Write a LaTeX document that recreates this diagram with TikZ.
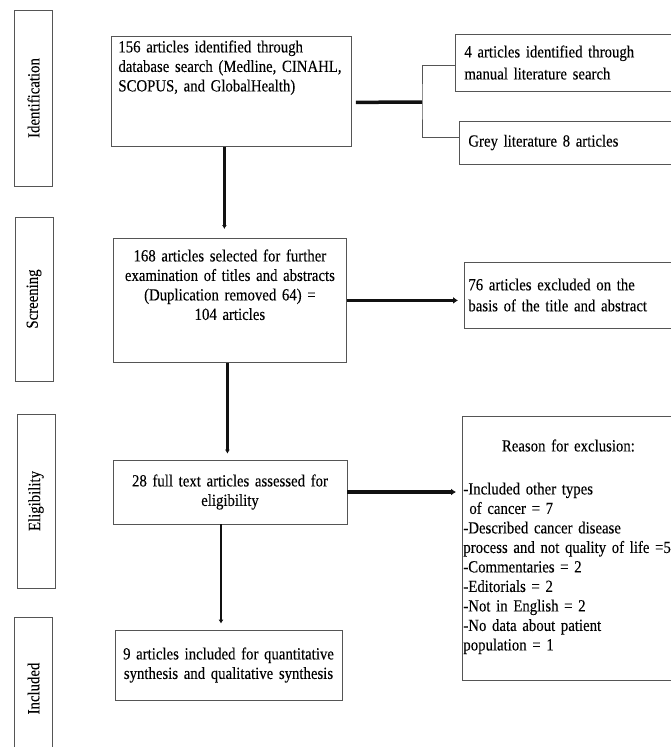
\documentclass[tikz,border=0pt]{standalone}
\usepackage{fontspec}
\setmainfont{Liberation Serif}[FakeStretch=0.87, WordSpace=0.7, FakeBold=0.15]
\usetikzlibrary{arrows.meta, positioning}
\definecolor{box-border}{HTML}{555555}
\definecolor{flow-color}{HTML}{111111}
\tikzset{
  phase-node/.style={
    draw=box-border, line width=0.8pt, rotate=90, minimum height=38pt,
    inner sep=2pt, font=\fontsize{17}{17}\selectfont
  },
  stage-node/.style={
    draw=box-border, line width=0.8pt, inner xsep=4pt, inner ysep=0pt,
    align=center, font=\fontsize{17}{19.5}\selectfont
  },
  side-node/.style={
    draw=box-border, line width=0.8pt, inner xsep=9pt, inner ysep=0pt,
    align=left, anchor=west, text width=212pt, font=\fontsize{17}{22}\selectfont
  },
  flow/.style={-{Latex[length=4pt, width=5pt]}, line width=2.2pt, draw=flow-color, shorten >=6pt},
  wide/.style={-{Latex[length=5pt, width=7pt]}, line width=3.5pt},
  link/.style={line width=3.5pt, draw=flow-color},
  branch/.style={line width=0.8pt, draw=box-border}
}

\begin{document}
\begin{tikzpicture}[x=1pt, y=-1pt]
  \useasboundingbox (0, 0) rectangle (671, 747);

  % phase labels
  \node[phase-node, minimum width=176pt] (lab-ident)  at (33.5, 98)  {Identification};
  \node[phase-node, minimum width=164pt] (lab-screen) at (34, 299)   {Screening};
  \node[phase-node, minimum width=174pt] (lab-elig)   at (36, 501)   {Eligibility};
  \node[phase-node, minimum width=143pt] (lab-incl)   at (33.5, 688.5) {Included};

  % main stages
  \node[stage-node, anchor=north west, align=left, inner xsep=7pt, text width=226pt,
        text height=16pt, text depth=94pt] (ident) at (111, 36)
        {156 articles identified through\\database search (Medline, CINAHL,\\SCOPUS, and GlobalHealth)};
  \node[stage-node, anchor=north west, text width=225pt, text height=23pt, text depth=101pt] (screen) at (113, 238)
        {168 articles selected for further\\examination of titles and abstracts\\(Duplication removed 64) =\\104 articles};
  \node[stage-node, text width=226pt, minimum height=64pt] (elig) at (230, 492)
        {28 full text articles assessed for\\eligibility};
  \node[stage-node, text width=219pt, minimum height=70pt] (incl) at (228.5, 665)
        {9 articles included for quantitative\\synthesis and qualitative synthesis};

  % side boxes
  \node[side-node, minimum height=57pt] (manual) at (455, 62.5)
        {4 articles identified through\\manual literature search};
  \node[side-node, minimum height=43pt] (grey) at (459, 142.5) {Grey literature 8 articles};
  \node[side-node, inner xsep=4pt, minimum height=66pt, font=\fontsize{17}{21}\selectfont] (excl) at (464, 295)
        {76 articles excluded on the\\basis of the title and abstract};
  \node[side-node, anchor=north west, inner xsep=1pt, text width=210pt, text height=35pt, text depth=229pt,
        font=\fontsize{17}{19.5}\selectfont] (reason) at (462, 416)
        {\makebox[210pt]{Reason for exclusion:}\\[23.5pt]
         -Included other types\\
         \hspace*{6pt}of cancer = 7\\
         -Described cancer disease\\
         process and not quality of life =5\\
         -Commentaries = 2\\
         -Editorials = 2\\
         -Not in English = 2\\
         -No data about patient\\
         population = 1};

  % connectors
  \coordinate (split) at (422, 102);
  \draw[link, shorten <=4pt] ([yshift=-11pt]ident.east) -- (split);
  \draw[branch] ([yshift=-2.5pt]manual.west) -| (split) |- ([yshift=5.5pt]grey.west);

  \draw[flow, shorten >=9pt] ([xshift=-7pt]ident.south) -- ([xshift=-7pt]ident.south |- screen.north);
  \draw[flow] ([xshift=-2.5pt]screen.south) -- ([xshift=-2.5pt]screen.south |- elig.north);
  \draw[flow] ([xshift=-9pt]elig.south) -- ([xshift=-9pt]elig.south |- incl.north);
  \draw[flow, wide] (screen.east) -- (screen.east -| excl.west);
  \draw[flow, wide] (elig.east) -- (elig.east -| reason.west);
\end{tikzpicture}
\end{document}
